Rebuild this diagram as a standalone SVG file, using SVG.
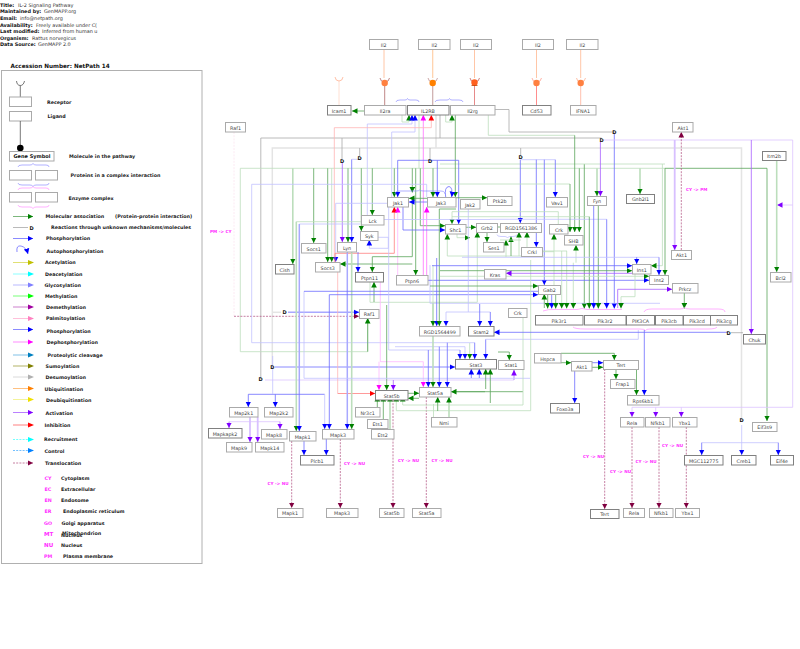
<svg xmlns="http://www.w3.org/2000/svg" width="800" height="649" viewBox="0 0 800 649">
<style>
text{font-family:"DejaVu Sans",sans-serif}
.h{font-size:4.9px;fill:#333}.hb{font-size:4.9px;font-weight:bold;fill:#111}
.l{font-size:4.8px;font-weight:bold;fill:#222}
.lm{font-size:4.8px;font-weight:bold;fill:#ff30ff}
.lab{font-size:4.2px;font-weight:bold;fill:#ff30ff}
.nt{font-size:4.8px;fill:#444;text-anchor:middle}
.dt{font-size:5px;font-weight:bold;fill:#111;text-anchor:middle}
.bx{fill:#fff;stroke:#aaa;stroke-width:1}.dk{stroke:#808080}
path{fill:none;stroke-width:.8}
.g{stroke:#5aa45a}.gl{stroke:#bcdebc}.gt{stroke:#bcdebc;stroke-width:1.6}
.b{stroke:#6c6cff}.bl{stroke:#c2c2ff}.bt{stroke:#a8a8ff;stroke-width:1.5}
.p{stroke:#a860ff}.pl{stroke:#dcc4ff}.pt{stroke:#d8c0ff;stroke-width:1.8}
.m{stroke:#ff70ff}.ml{stroke:#ffb8ff}.r{stroke:#ff8080}.rl{stroke:#ffb4b4}
.k{stroke:#a8a8a8}.kl{stroke:#e4e4e4;stroke-width:1.5}
.t{stroke:#b8608c;stroke-dasharray:2 1.2}
.o1{stroke:#ffb890}.o2{stroke:#ffd0a8;stroke-width:1.2}.o3{stroke:#ffd8c8}
.s1{stroke:#b06868}.s2{stroke:#ccacac;stroke-width:1.2}.s3{stroke:#e06c6c}.s4{stroke:#ff7070}.s5{stroke:#ffb098}
.br{stroke:#9090ff;stroke-width:.7}.brm{stroke:#ff90ff;stroke-width:.7}
.ag{marker-end:url(#ag)}.ab{marker-end:url(#ab)}.ap{marker-end:url(#ap)}.am{marker-end:url(#am)}.ar{marker-end:url(#ar)}.at{marker-end:url(#at)}
</style>
<defs>
<marker id="ag" markerUnits="userSpaceOnUse" markerWidth="6" markerHeight="6" refX="5.5" refY="3" orient="auto"><path d="M0,.2L5.6,3L0,5.8z" style="fill:#008000;stroke:none"/></marker>
<marker id="ab" markerUnits="userSpaceOnUse" markerWidth="6" markerHeight="6" refX="5.5" refY="3" orient="auto"><path d="M0,.2L5.6,3L0,5.8z" style="fill:#0000ff;stroke:none"/></marker>
<marker id="ap" markerUnits="userSpaceOnUse" markerWidth="6" markerHeight="6" refX="5.5" refY="3" orient="auto"><path d="M0,.2L5.6,3L0,5.8z" style="fill:#8000ff;stroke:none"/></marker>
<marker id="am" markerUnits="userSpaceOnUse" markerWidth="6" markerHeight="6" refX="5.5" refY="3" orient="auto"><path d="M0,.2L5.6,3L0,5.8z" style="fill:#ff00ff;stroke:none"/></marker>
<marker id="ar" markerUnits="userSpaceOnUse" markerWidth="6" markerHeight="6" refX="5.5" refY="3" orient="auto"><path d="M0,.2L5.6,3L0,5.8z" style="fill:#ff0000;stroke:none"/></marker>
<marker id="at" markerUnits="userSpaceOnUse" markerWidth="6" markerHeight="6" refX="5.5" refY="3" orient="auto"><path d="M0,.2L5.6,3L0,5.8z" style="fill:#800040;stroke:none"/></marker>
</defs>
<rect width="800" height="649" fill="#fff"/>

<!-- pathway header -->
<g id="header">
<text class="hb" x="0" y="6.5">Title:</text><text class="h" x="18" y="6.5">IL-2 Signaling Pathway</text>
<text class="hb" x="0" y="13">Maintained by:</text><text class="h" x="44" y="13">GenMAPP.org</text>
<text class="hb" x="0" y="20">Email:</text><text class="h" x="20" y="20">info@netpath.org</text>
<text class="hb" x="0" y="26.5">Availability:</text><text class="h" x="36" y="26.5">Freely available under C(</text>
<text class="hb" x="0" y="33">Last modified:</text><text class="h" x="42" y="33">Inferred from human u</text>
<text class="hb" x="0" y="40">Organism:</text><text class="h" x="32" y="40">Rattus norvegicus</text>
<text class="hb" x="0" y="46">Data Source:</text><text class="h" x="38" y="46">GenMAPP 2.0</text>
<text x="10.5" y="67.5" style="font-size:5.7px;font-weight:bold;fill:#111">Accession Number: NetPath 14</text>
</g>

<!-- legend -->
<g id="legend">
<rect x="1.5" y="70.5" width="200.5" height="493" style="fill:#fff;stroke:#b0b0b0;stroke-width:1"/>
<path d="M16.5,81Q17,85.5 20.3,85.5Q23.5,85.5 24.5,81M20.3,85.5V97" style="stroke:#555"/>
<rect class="bx" x="9.5" y="97" width="22" height="9.5"/><rect class="bx" x="9.5" y="111.5" width="22" height="9.5"/>
<path d="M20.3,121V147" style="stroke:#555"/><circle cx="20.3" cy="148" r="3.3" fill="#000"/>
<rect class="bx" x="9.5" y="151.5" width="44.5" height="9.5"/><text class="dt" x="32" y="158">Gene Symbol</text>
<path class="br" d="M18,167Q18,165 22,165H30Q32,165 33,163.5Q34,165 36,165H46Q49,165 49,167"/>
<rect class="bx" x="9.5" y="170.5" width="22" height="9.5"/><rect class="bx" x="35.5" y="170.5" width="22" height="9.5"/>
<path class="br" d="M18,183Q18,185 22,185H30Q32,185 33,186.5Q34,185 36,185H46Q49,185 49,183"/>
<path class="brm" d="M18,190Q18,188 22,188H30Q32,188 33,186.5Q34,188 36,188H46Q49,188 49,190"/>
<rect class="bx" x="9.5" y="192.5" width="22" height="9.5"/><rect class="bx" x="35.5" y="192.5" width="22" height="9.5"/>
<path class="brm" d="M18,205Q18,207 22,207H30Q32,207 33,208.5Q34,207 36,207H46Q49,207 49,205"/>
<path class="g ag" d="M13,216.5H33"/><path class="k" d="M13,227.5H28"/><text class="dt" x="31.5" y="229.5">D</text>
<path class="b ab" d="M13,238.5H33"/>
<path class="b ab" d="M17,252Q16,245 21,246Q26,247 28,254"/>
<path style="stroke:#d8d850" d="M13,262.5H28"/><path d="M28,260V265L34,262.5z" style="fill:#c0c000;stroke:none"/>
<path style="stroke:#70ffff" d="M13,274H28"/><path d="M28,271.5V276.5L34,274z" style="fill:#00ffff;stroke:none"/>
<path style="stroke:#d0d0ff;stroke-width:1.5" d="M13,285H28"/><path d="M28,282.5V287.5L34,285z" style="fill:#8080ff;stroke:none"/>
<path style="stroke:#90ff90;stroke-width:1.2" d="M13,296H28"/><path d="M28,293.5V298.5L34,296z" style="fill:#00ff00;stroke:none"/>
<path style="stroke:#c060c0" d="M13,307H28"/><path d="M28,304.5V309.5L34,307z" style="fill:#a000a0;stroke:none"/>
<path style="stroke:#ffb0d0" d="M13,318.5H28"/><path d="M28,316V321L34,318.5z" style="fill:#ff80c0;stroke:none"/>
<path class="b ab" d="M13,329.5H33"/>
<path class="m am" d="M13,342H33"/>
<path style="stroke:#b0d8f0;stroke-width:1.6" d="M13,355H28"/><path d="M28,352.5V357.5L34,355z" style="fill:#0080c0;stroke:none"/>
<path style="stroke:#c0c080;stroke-width:1.2" d="M13,366H28"/><path d="M28,363.5V368.5L34,366z" style="fill:#808000;stroke:none"/>
<path style="stroke:#d0d0d0" d="M13,377H28"/><path d="M28,374.5V379.5L34,377z" style="fill:#b0b0b0;stroke:none"/>
<path style="stroke:#ffb060" d="M13,388.5H28"/><path d="M28,386V391L34,388.5z" style="fill:#ff8000;stroke:none"/>
<path style="stroke:#f0f080" d="M13,399.5H28"/><path d="M28,397V402L34,399.5z" style="fill:#f0e000;stroke:none"/>
<path class="p ap" d="M13,412.5H33"/>
<path style="stroke:#ffb0b0;stroke-width:1.6" d="M13,425H28"/><path d="M28,422.5V427.5L34,425z" style="fill:#ff0000;stroke:none"/>
<path style="stroke:#50ffff;stroke-dasharray:2 1.2" d="M13,439.5H28"/><path d="M28,437V442L34,439.5z" style="fill:#00ffff;stroke:none"/>
<path style="stroke:#50b0ff;stroke-dasharray:2 1.2" d="M13,450.5H28"/><path d="M28,448V453L34,450.5z" style="fill:#0080ff;stroke:none"/>
<path class="t at" d="M13,463H33"/>
<text class="l" x="47" y="104">Receptor</text><text class="l" x="47.5" y="118">Ligand</text>
<text class="l" x="69" y="158">Molecule in the pathway</text><text class="l" x="70.5" y="177">Proteins in a complex interaction</text>
<text class="l" x="68.5" y="199.5">Enzyme complex</text>
<text class="l" x="45.5" y="218">Molecular association</text><text class="l" x="115" y="218">(Protein-protein interaction)</text>
<text class="l" x="51" y="229">Reactions through unknown mechanisms/molecules</text>
<text class="l" x="46" y="240">Phosphorylation</text><text class="l" x="46.5" y="253">Autophosphorylation</text>
<text class="l" x="45" y="264">Acetylation</text><text class="l" x="45" y="276">Deacetylation</text><text class="l" x="44.5" y="287">Glycosylation</text>
<text class="l" x="45" y="298">Methylation</text><text class="l" x="46" y="309">Demethylation</text><text class="l" x="46" y="320">Palmitoylation</text>
<text class="l" x="46.5" y="333">Phosphorylation</text><text class="l" x="46.5" y="344">Dephosphorylation</text>
<text class="l" x="47.5" y="357">Proteolytic cleavage</text><text class="l" x="45.5" y="368">Sumoylation</text><text class="l" x="45.5" y="379">Desumoylation</text>
<text class="l" x="44.5" y="390.5">Ubiquitination</text><text class="l" x="46" y="401.5">Deubiquitination</text>
<text class="l" x="45.5" y="414.5">Activation</text><text class="l" x="44.5" y="427">Inhibition</text>
<text class="l" x="44" y="441">Recruitment</text><text class="l" x="44.5" y="452.5">Control</text><text class="l" x="45" y="465">Translocation</text>
<text class="lm" x="44.5" y="479.5">CY</text><text class="l" x="61" y="479.5">Cytoplasm</text>
<text class="lm" x="44.5" y="491">EC</text><text class="l" x="61" y="491">Extracellular</text>
<text class="lm" x="44.5" y="502">EN</text><text class="l" x="61" y="502">Endosome</text>
<text class="lm" x="44.5" y="513">ER</text><text class="l" x="63" y="513">Endoplasmic reticulum</text>
<text class="lm" x="44" y="524.5">GO</text><text class="l" x="61.5" y="524.5">Golgi apparatus</text>
<text class="lm" x="44" y="535.5" style="font-size:5.6px">MT</text><text class="l" x="62" y="535">Mitochondrion</text><text class="l" x="61" y="537">Nucleus</text>
<text class="lm" x="44" y="547" style="font-size:5.6px">NU</text><text class="l" x="61" y="546.5">Nucleus</text>
<text class="lm" x="44" y="558">PM</text><text class="l" x="63" y="558">Plasma membrane</text>
</g>

<!-- interactions between the molecules -->
<g id="connectors">
<!-- ligand to receptor links -->
<path class="o1" d="M384,49V78"/><path class="s1" d="M384.7,84V105"/>
<path class="o2" d="M432.7,49V78"/><path class="s2" d="M432.7,84V105"/>
<path class="o1" d="M474.5,49V78"/><path class="s3" d="M474.5,84V105"/>
<path class="o3" d="M339,81V105"/>
<path class="o1" d="M536.5,49V78"/><path class="s4" d="M536.5,84V105"/>
<path class="o1" d="M580.7,49V78"/><path class="s5" d="M580.7,84V105"/>
<!-- long backbone lines -->
<path class="k" d="M495,109.5H509V132H614.3"/>
<path class="kl" d="M436,115V148M272.3,367V148H741.5V420"/>
<path class="k" d="M440,115V138M260.8,379V138H601.5M342,138V159M359.7,148V156M430,148V159M520.7,148V156"/>
<path class="gl" d="M240.3,168.3V351.7H367.7V320"/>
<path class="gl" d="M419,115V168.3"/>
<path class="gl" d="M240.3,168.3H665"/>
<path class="g" d="M665,168.3H767"/><path class="g ag" d="M767,168.3V421"/>
<path class="g ag" d="M313.7,168.3V243"/>
<path class="gt ag" d="M292.8,168.3V264"/>
<path class="g ag" d="M327.7,168.3V262"/><path class="gl ag" d="M331.7,168.3V262"/>
<path class="g ag" d="M348,168.3V242"/>
<path class="g ag" d="M361.3,168.3V231"/>
<path class="g ag" d="M372.3,168.3V215"/>
<path class="g ag" d="M394.3,168.3V197"/>
<path class="g ag" d="M412.3,168.3V192.5"/>
<path class="g" d="M412.3,198V256.7"/>
<path class="g ag" d="M415.7,168.3V275"/>
<path class="g ag" d="M433,168.3V197"/>
<path class="g ag" d="M420.3,168.3V225.7H445"/>
<path class="gt ag" d="M597,168.3V196"/>
<path class="gt ag" d="M640,168.3V194"/>
<path class="g ag" d="M584.3,164V308.5"/>
<path class="gl" d="M440,164H665"/>
<path class="g ag" d="M665,168.3V275"/>
<path class="gl ag" d="M662.4,164V265.7H651"/>
<path class="g ag" d="M579.3,168.3V232"/>
<!-- receptor interactions -->
<path class="g ag" d="M364,111H352"/>
<path class="gl ag" d="M402,115V122H409V115"/>
<path class="bl ab" d="M367.3,215V124H412V115"/>
<path class="bl ab" d="M391.7,197V132H415V115"/>
<path class="m am" d="M423.3,275V115"/>
<path class="m am" d="M426.7,275V207"/>
<path class="rl ar" d="M334.3,262V127.7H431.3V115"/>
<path class="gl ag" d="M445.7,115V122H452V115"/>
<path class="g ag" d="M455.3,115V197"/>
<path class="gl" d="M488.3,115V135.3H574.7"/>
<path class="g ag" d="M574.7,135.3V232"/>
<!-- unknown-mechanism branches -->
<path class="b ab" d="M351.7,159.3V242"/><path class="bl" d="M351.7,159.3H359.7"/>
<path class="p ap" d="M342.3,163V242"/>
<path class="b" d="M397.7,160.3H458.7"/><path class="b ab" d="M397.7,160.3V197"/><path class="b ab" d="M437.3,160.3V197"/><path class="b ab" d="M458.7,160.3V224"/>
<path class="bl" d="M520.7,159.7H555.3"/><path class="b ab" d="M555.3,159.7V197"/><path class="b ab" d="M520.3,159.7V223"/><path class="b ab" d="M536.3,159.7V247"/><path class="b ab" d="M544.3,159.7V285"/>
<path class="b ab" d="M614.3,134V308.5"/>
<path class="p ap" d="M600.4,142V196"/>
<path class="pl" d="M604,140H792.7V407.3H632"/>
<path class="pl ap" d="M632,407.3V417"/><path class="pl ap" d="M655.7,407.3V417"/><path class="pl ap" d="M681.3,407.3V417"/>
<path class="p ap" d="M751.3,140V334"/>
<path class="pt ap" d="M674.7,140V250"/>
<path class="pl ap" d="M792.7,205H777"/>
<path class="gt ag" d="M776.7,160V272"/>
<path class="bl" d="M701.7,442.7H778.3"/><path class="b ab" d="M701.7,442.7V455"/><path class="bl ab" d="M741.7,425V455"/><path class="b ab" d="M778.3,442.7V455"/>
<path class="pl" d="M265,380H514"/><path class="p ap" d="M514,380V370"/>
<path class="b ab" d="M275,367H455"/>
<path class="kl" d="M272,312.3H281"/><path class="bt ab" d="M288,312.3H359"/>
<!-- translocation paths -->
<path style="stroke:#fbe4f0;stroke-dasharray:2 1.2" d="M234,132V316"/>
<path class="t at" d="M234,316.3H359"/>
<path class="t at" d="M681.3,250V132"/>
<path class="t at" d="M291.7,441V508"/><path class="t at" d="M340.3,439V508"/><path class="t at" d="M393,400V508"/><path class="t at" d="M426.3,397V508"/>
<path class="t at" d="M604.7,369V509"/><path class="t at" d="M632,427V508"/><path class="t at" d="M659,427V508"/><path class="t at" d="M686.3,427V508"/>
<!-- kinase and adaptor wiring, left side -->
<path class="bl" d="M426.7,197V184.3H251.7V342.7H474.7"/><path class="b ab" d="M474.7,342.7V359"/>
<path class="gl" d="M296.3,221.7H361"/><path class="gt ag" d="M296.3,221.7V431"/>
<path class="bl" d="M299.3,224H360"/><path class="bt ab" d="M299.3,224V431"/>
<path class="bl ab" d="M387,203.3H335.7V262"/>
<path class="rl" d="M337.7,272V393.5"/><path class="r ar" d="M337.7,393.5H375"/>
<path class="r ar" d="M335,262V253.3H394.3V207"/>
<path class="ml am" d="M397.7,275V207"/>
<path class="g ag" d="M427,198.3H409"/><path class="b ab" d="M427,202H409"/>
<path class="g ag" d="M456,197.7H487"/>
<path class="b ab" d="M445.7,197Q444,187 449,186.5Q453,187 451.7,197"/>
<path class="b ab" d="M403,207V230H445"/>
<path class="gl ag" d="M558.3,224V211.7H452V224"/>
<path class="g ag" d="M466,227.3H476"/>
<path class="gl ag" d="M520,256H447.3V234"/>
<path class="gl ag" d="M457,234V237.7H470"/>
<path class="gl ag" d="M370,282V302.3H477.3V232"/>
<path class="g ag" d="M487,232V242"/>
<path class="g" d="M498,227H500"/>
<path class="g ag" d="M412.3,256.7H372.3V272"/>
<path class="g ag" d="M412.3,264H340"/>
<path class="b ab" d="M358,252V272"/>
<path class="bl ab" d="M369.3,248.3V240"/><path class="bl" d="M369.3,248.3H388.3V237.3H378"/>
<path class="g ag" d="M374,302V282"/>
<path class="g ag" d="M367.7,351.7V318"/>
<path class="bt ab" d="M347.3,252V429"/>
<path class="gt ag" d="M351.7,252V429"/>
<path class="ml am" d="M380.3,282V361.7H423.3V387"/>
<path class="ml am" d="M379,361.7V390"/>
<path class="g ag" d="M386.7,305V390"/>
<path class="p ap" d="M393.3,380V390"/>
<path class="bl" d="M304,291.3V378.3H530"/>
<path class="b" d="M304,291.3H538"/>
<path class="b ab" d="M329.3,294.7V429"/><path class="b ab" d="M329.3,294.7H538"/>
<path class="b" d="M248.3,394.3H324.7"/><path class="b ab" d="M248.3,394.3V407"/><path class="b ab" d="M275.3,394.3V407"/><path class="bl ab" d="M324.7,394.3V429"/>
<path class="bl" d="M272.7,356V394"/>
<!-- MAP kinase cascade -->
<path class="pl" d="M229,421.7H280"/><path class="p ap" d="M229,421.7V428"/><path class="p ap" d="M280,421.7V429"/>
<path class="pt ap" d="M250,417V442"/><path class="pt ap" d="M257.7,417V442"/>
<path class="b ab" d="M304,441V455"/><path class="b ab" d="M326.3,439V455"/>
<!-- Jak-Stat section -->
<path class="bl" d="M388.7,207V350H460"/><path class="b ab" d="M460,350V359"/>
<path class="bl ab" d="M395,346.7H465V359"/>
<path class="gl ag" d="M469.7,343V359"/>
<path class="b ab" d="M428.3,350V387"/><path class="b ab" d="M439.3,346.7V387"/><path class="b ab" d="M447.3,342.7V387"/>
<path class="gt ag" d="M433,303V387"/>
<path class="bl" d="M430,265V303.3H660"/>
<path class="b ab" d="M428,280.3H649"/>
<path class="b ab" d="M485.7,339.3V359"/><path class="bl" d="M485.7,339.3H638.3V330"/>
<path class="g ag" d="M509.3,352V360"/><path class="g" d="M498,352H509.3"/>
<path class="b ab" d="M471.3,378V369"/><path class="b ab" d="M479.3,378V369"/>
<path class="g ag" d="M485.7,389V369"/><path class="g ag" d="M490.3,403V369"/>
<path class="g ag" d="M408,393.3H419"/><path class="g ag" d="M419,398.3H408"/>
<path class="g" d="M451,391.7H523"/>
<path class="g ag" d="M485,391.7H451"/>
<path class="g ag" d="M377.3,407V396"/><path class="g ag" d="M383.3,419V396"/><path class="gt ag" d="M390,429V396"/>
<path class="gl ag" d="M396.3,410.7V396"/><path class="gl ag" d="M402.7,405V396"/>
<path class="gl" d="M396.3,410.7H530.7V260"/><path class="gl" d="M402.7,405H523V317"/>
<path class="g ag" d="M437.7,411V397"/><path class="gt ag" d="M449,417V397"/>
<path class="gl" d="M433.5,417V404"/>
<!-- RGD and Stam2 -->
<path class="gl ag" d="M433,265V326"/>
<path class="b ab" d="M436.7,258V326"/><path class="g ag" d="M439.3,209V326"/><path class="g" d="M439.3,209H456"/>
<path class="bl ab" d="M446,312V326"/><path class="bl" d="M446,312H490.3"/>
<path class="bl" d="M468.3,209V312"/>
<path class="b ab" d="M479.7,304V326"/><path class="b ab" d="M490.3,312V326"/>
<path class="b ab" d="M728,332.3H494"/>
<path class="k" d="M731,332.7H743"/>
<!-- Grb2, RGD1561386 and Crk area -->
<path class="bl" d="M497,234.5Q497,236.5 501,236.5H505Q507,236.5 507.5,238Q508,236.5 510,236.5H513Q517,236.5 517,234.5"/>
<path class="gl ag" d="M506,257V240"/><path class="g ag" d="M511,256V236.7"/>
<path class="gl ag" d="M519,256V232"/><path class="gl ag" d="M527,256V232"/>
<path class="gl" d="M520,256H545"/>
<path class="gl ag" d="M554,251.7V234"/>
<path class="gl ag" d="M554,285V251.7H521"/>
<path class="bl" d="M384,219.5H490V219.3H606.7"/><path class="b ab" d="M606.7,219.3V308.5"/>
<path class="gl" d="M440,184H570"/><path class="g ag" d="M570,184V232"/>
<path class="gl" d="M452,216.7H589.3"/><path class="g ag" d="M589.3,216.7V308.5"/>
<path class="gl ag" d="M576,262.7V245"/><path class="gl ag" d="M573.3,262.7V308.5"/>
<path class="gl ag" d="M561.7,251V308.5"/><path class="gl ag" d="M566.7,251V308.5"/>
<path class="gl" d="M530,251H567"/>
<path class="b ab" d="M593.7,205V308.5"/><path class="g ag" d="M598.3,205V308.5"/>
<path class="g ag" d="M547.7,294V308.5"/><path class="b ab" d="M551.7,294V308.5"/><path class="g ag" d="M555.7,294V308.5"/>
<path class="g ag" d="M544.3,308V294"/>
<path class="g ag" d="M430,286H538"/>
<!-- Ins, Prkcz and PI3K section -->
<path class="b ab" d="M432,265.7H632"/>
<path class="g ag" d="M440,270.7H632"/>
<path class="gl ag" d="M440,276.3H649"/>
<path class="p ap" d="M632,273.3H506"/>
<path class="bl" d="M462,257.3H659"/><path class="b ab" d="M636.7,257.3V264"/><path class="b ab" d="M659,257.3V275"/>
<path class="gl ag" d="M635,274V296.7H621V308.5"/>
<path class="p ap" d="M617.7,308V289.3H672"/>
<path class="g ag" d="M684.3,293V308.5"/>
<path class="brm" d="M543,311Q548,309 555,309.5H570Q578,310 582,308.5Q586,310 594,309.5H622"/>
<path class="brm" d="M644,312Q645,309 652,309H680Q684,309 684.5,307.5Q685,309 690,309H718Q725,309 725,312"/>
<path class="brm" d="M573,327Q575,329 585,329H640Q645,329 645.5,330.5Q646,329 650,329H708Q716,329 717,327"/>
<!-- Tert and downstream targets -->
<path class="g ag" d="M561,362.7H571"/><path class="g ag" d="M561,353.3H614.3V360"/>
<path class="b ab" d="M592,362.7H603"/><path class="g ag" d="M592,367.3H603"/>
<path class="b ab" d="M574.7,371V403"/><path class="g ag" d="M616,369V379"/>
<path class="g ag" d="M636.5,369V395"/><path class="b ab" d="M644.3,330V395"/>
<path class="gl" d="M510,232H530M500,240H521"/>
<!-- complex braces near the receptors -->
<path class="br" d="M396,102Q396,100 400,100H405Q407,100 407.5,98.5Q408,100 410,100H416Q419,100 419,102"/>
<path class="br" d="M435,102Q435,100 440,100H447Q449,100 449.5,98.5Q450,100 452,100H459Q463,100 463,102"/>
<path class="br" d="M395,194Q395,191 400,191H416Q419,191 419.5,190Q420,191 424,191H440Q445,191 445,194"/>
</g>

<!-- receptor cups and ligand binding dots -->
<g id="binding-sites">
<path d="M335,77Q335.5,81 339,81Q342.5,81 343,77" style="stroke:#ffb090"/>
<path d="M380,78Q380.5,82 384.7,82Q389,82 389.5,78" style="stroke:#b06868"/><circle cx="384.7" cy="83" r="3.2" fill="#ff8040"/>
<path d="M428,78Q428.5,82 432.7,82Q437,82 437.5,78" style="stroke:#c09090"/><circle cx="432.7" cy="83" r="3.2" fill="#ff8000"/>
<path d="M470,78Q470.5,82 474.5,82Q479,82 479.5,78" style="stroke:#c06060"/><circle cx="474.5" cy="82.5" r="3.2" fill="#ff6020"/><path d="M471.5,85.5H477.5" style="stroke:#c04000"/>
<path d="M532,78Q532.5,82 536.5,82Q541,82 541.5,78" style="stroke:#ffa090"/><circle cx="536.5" cy="83" r="3.2" fill="#ff8040"/>
<path d="M576.5,78Q577,82 580.7,82Q585,82 585.5,78" style="stroke:#ffb090"/><circle cx="580.7" cy="83" r="3.2" fill="#ff8040"/>
</g>

<!-- D markers for unknown mechanisms -->
<g id="unknown-markers">
<text class="dt" x="342" y="163">D</text><text class="dt" x="359.7" y="159.5">D</text><text class="dt" x="430" y="163">D</text>
<text class="dt" x="520.7" y="159">D</text><text class="dt" x="614.3" y="133.5">D</text><text class="dt" x="601.7" y="141.8">D</text>
<text class="dt" x="284.7" y="314">D</text><text class="dt" x="272.3" y="369">D</text><text class="dt" x="260.7" y="381">D</text>
<text class="dt" x="728.7" y="334.5">D</text><text class="dt" x="741.7" y="422">D</text>
</g>

<!-- compartment changes -->
<g id="translocation-labels">
<text class="lab" x="210" y="232.5">PM -&gt; CY</text><text class="lab" x="686" y="190.5">CY -&gt; PM</text>
<text class="lab" x="267.5" y="484.5">CY -&gt; NU</text><text class="lab" x="344" y="465">CY -&gt; NU</text>
<text class="lab" x="398" y="461.5">CY -&gt; NU</text><text class="lab" x="431.5" y="461.5">CY -&gt; NU</text>
<text class="lab" x="583" y="458">CY -&gt; NU</text><text class="lab" x="610" y="472.5">CY -&gt; NU</text>
<text class="lab" x="635.5" y="463">CY -&gt; NU</text><text class="lab" x="662" y="447">CY -&gt; NU</text>
</g>

<!-- molecules -->
<g id="il2-a"><rect class="bx" x="369.5" y="39.5" width="28.5" height="10"/><text class="nt" x="383.7" y="46.5">Il2</text></g>
<g id="il2-b"><rect class="bx" x="418.5" y="39.5" width="31.5" height="10"/><text class="nt" x="434.5" y="46.5">Il2</text></g>
<g id="il2-c"><rect class="bx" x="460.5" y="39.5" width="31" height="10"/><text class="nt" x="476" y="46.5">Il2</text></g>
<g id="il2-d"><rect class="bx" x="522.5" y="39.5" width="31" height="10"/><text class="nt" x="538" y="46.5">Il2</text></g>
<g id="il2-e"><rect class="bx" x="566.5" y="39.5" width="31.5" height="10"/><text class="nt" x="582.5" y="46.5">Il2</text></g>
<g id="icam1"><rect class="bx dk" x="327.5" y="105.5" width="23.5" height="9.5"/><text class="nt" x="339" y="112.5">Icam1</text></g>
<g id="il2ra"><rect class="bx" x="364.5" y="105.5" width="41.5" height="9.5"/><text class="nt" x="385" y="112.5">Il2ra</text></g>
<g id="il2rb"><rect class="bx dk" x="407.5" y="105.5" width="41.5" height="9.5"/><text class="nt" x="428" y="112.5">IL2RB</text></g>
<g id="il2rg"><rect class="bx" x="450.5" y="105.5" width="44.5" height="9.5"/><text class="nt" x="472.5" y="112.5">Il2rg</text></g>
<g id="cd53"><rect class="bx dk" x="522.5" y="105.5" width="28.5" height="9.5"/><text class="nt" x="536.5" y="112.5">Cd53</text></g>
<g id="ifna1"><rect class="bx" x="570.5" y="105.5" width="25.5" height="9.5"/><text class="nt" x="583" y="112.5">IFNA1</text></g>
<g id="raf1-a"><rect class="bx" x="225.5" y="122.5" width="20" height="9.5"/><text class="nt" x="235.5" y="129.5">Raf1</text></g>
<g id="akt1-a"><rect class="bx" x="672.5" y="122.5" width="20.5" height="9.5"/><text class="nt" x="683" y="129.5">Akt1</text></g>
<g id="itm2b"><rect class="bx dk" x="762.5" y="151.5" width="23.5" height="9"/><text class="nt" x="774" y="158">Itm2b</text></g>
<g id="fyn"><rect class="bx" x="587.5" y="196.5" width="19" height="9"/><text class="nt" x="597" y="203">Fyn</text></g>
<g id="vav1"><rect class="bx" x="546.5" y="197.5" width="21" height="9.5"/><text class="nt" x="557" y="204.5">Vav1</text></g>
<g id="gnb2l1"><rect class="bx dk" x="626.5" y="194.5" width="28" height="9"/><text class="nt" x="640.5" y="201">Gnb2l1</text></g>
<g id="ptk2b"><rect class="bx" x="487.5" y="196.5" width="24.5" height="9"/><text class="nt" x="499.7" y="203">Ptk2b</text></g>
<g id="jak1"><rect class="bx" x="387.5" y="197.5" width="21" height="9.5"/><text class="nt" x="398" y="204.5">Jak1</text></g>
<g id="jak3"><rect class="bx" x="427.5" y="197.5" width="28.5" height="9.5"/><text class="nt" x="441" y="204.5">Jak3</text></g>
<g id="jak2"><rect class="bx" x="460.5" y="199.5" width="19.5" height="9.5"/><text class="nt" x="470" y="206.5">Jak2</text></g>
<g id="lck"><rect class="bx" x="361.5" y="215.5" width="22.5" height="9.5"/><text class="nt" x="372.7" y="222.5">Lck</text></g>
<g id="shc1"><rect class="bx" x="445.5" y="224.5" width="20.5" height="9.5"/><text class="nt" x="455.5" y="231.5">Shc1</text></g>
<g id="grb2"><rect class="bx" x="476.5" y="223.5" width="21" height="9"/><text class="nt" x="487" y="230">Grb2</text></g>
<g id="rgd1561386"><rect class="bx" x="500.5" y="223.5" width="41" height="9"/><text class="nt" x="521" y="230">RGD1561386</text></g>
<g id="crk-a"><rect class="bx" x="549.5" y="224.5" width="18.5" height="9.5"/><text class="nt" x="559" y="231.5">Crk</text></g>
<g id="shb"><rect class="bx" x="564.5" y="235.5" width="18.5" height="9.5"/><text class="nt" x="573.5" y="242.5">SHB</text></g>
<g id="syk"><rect class="bx" x="360.5" y="231.5" width="17.5" height="9"/><text class="nt" x="369.3" y="238">Syk</text></g>
<g id="socs1"><rect class="bx" x="301.5" y="243.5" width="24.5" height="9.5"/><text class="nt" x="313.7" y="250.5">Socs1</text></g>
<g id="lyn"><rect class="bx" x="337.5" y="242.5" width="19" height="9.5"/><text class="nt" x="347" y="249.5">Lyn</text></g>
<g id="ses1"><rect class="bx" x="483.5" y="242.5" width="20.5" height="9.5"/><text class="nt" x="493.7" y="249.5">Ses1</text></g>
<g id="crkl"><rect class="bx" x="521.5" y="247.5" width="21" height="9"/><text class="nt" x="532" y="254">Crkl</text></g>
<g id="socs3"><rect class="bx" x="315.5" y="262.5" width="24.5" height="9.5"/><text class="nt" x="327.7" y="269.5">Socs3</text></g>
<g id="cish"><rect class="bx dk" x="275.5" y="264.5" width="18.5" height="9.5"/><text class="nt" x="284.7" y="271.5">Cish</text></g>
<g id="ptpn11"><rect class="bx dk" x="355.5" y="272.5" width="28" height="9.5"/><text class="nt" x="369.5" y="279.5">Ptpn11</text></g>
<g id="ptpn6"><rect class="bx" x="396.5" y="275.5" width="31.5" height="9.5"/><text class="nt" x="412" y="282.5">Ptpn6</text></g>
<g id="kras"><rect class="bx" x="484.5" y="269.5" width="21.5" height="9.5"/><text class="nt" x="495" y="276.5">Kras</text></g>
<g id="ins1"><rect class="bx" x="632.5" y="264.5" width="18.5" height="9.5"/><text class="nt" x="641.7" y="271.5">Ins1</text></g>
<g id="ins2"><rect class="bx" x="649.5" y="275.5" width="19" height="9"/><text class="nt" x="659" y="282">Ins2</text></g>
<g id="akt1-b"><rect class="bx" x="671.5" y="250.5" width="20" height="9"/><text class="nt" x="681.5" y="257">Akt1</text></g>
<g id="prkcz"><rect class="bx" x="672.5" y="283.5" width="25.5" height="9.5"/><text class="nt" x="685" y="290.5">Prkcz</text></g>
<g id="gab2"><rect class="bx" x="538.5" y="285.5" width="22" height="9"/><text class="nt" x="549.5" y="292">Gab2</text></g>
<g id="bcl2"><rect class="bx" x="770.5" y="272.5" width="20.5" height="9.5"/><text class="nt" x="780.7" y="279.5">Bcl2</text></g>
<g id="crk-b"><rect class="bx" x="508.5" y="308.5" width="18.5" height="9"/><text class="nt" x="517.7" y="315">Crk</text></g>
<g id="raf1-b"><rect class="bx" x="359.5" y="309.5" width="19.5" height="9"/><text class="nt" x="369.3" y="316">Raf1</text></g>
<g id="pik3r1"><rect class="bx dk" x="535.5" y="315.5" width="47.5" height="9.5"/><text class="nt" x="559" y="322.5">Pik3r1</text></g>
<g id="pik3r2"><rect class="bx dk" x="584.5" y="315.5" width="41.5" height="9.5"/><text class="nt" x="605" y="322.5">Pik3r2</text></g>
<g id="pik3ca"><rect class="bx dk" x="626.5" y="315.5" width="28" height="9.5"/><text class="nt" x="640.5" y="322.5">PIK3CA</text></g>
<g id="pik3cb"><rect class="bx dk" x="655.5" y="315.5" width="27.5" height="9.5"/><text class="nt" x="669" y="322.5">Pik3cb</text></g>
<g id="pik3cd"><rect class="bx dk" x="683.5" y="315.5" width="27" height="9.5"/><text class="nt" x="697" y="322.5">Pik3cd</text></g>
<g id="pik3cg"><rect class="bx dk" x="710.5" y="315.5" width="27" height="9.5"/><text class="nt" x="724" y="322.5">Pik3cg</text></g>
<g id="rgd1564499"><rect class="bx" x="419.5" y="326.5" width="40.5" height="9.5"/><text class="nt" x="439.7" y="333.5">RGD1564499</text></g>
<g id="stam2"><rect class="bx dk" x="468.5" y="326.5" width="25.5" height="9.5"/><text class="nt" x="481" y="333.5">Stam2</text></g>
<g id="chuk"><rect class="bx dk" x="743.5" y="334.5" width="22" height="9.5"/><text class="nt" x="754.5" y="341.5">Chuk</text></g>
<g id="stat3"><rect class="bx dk" x="455.5" y="359.5" width="41" height="9.5"/><text class="nt" x="476" y="366.5">Stat3</text></g>
<g id="stat1"><rect class="bx" x="498.5" y="360.5" width="25.5" height="9"/><text class="nt" x="511" y="367">Stat1</text></g>
<g id="hspca"><rect class="bx" x="534.5" y="353.5" width="26.5" height="9.5"/><text class="nt" x="547.5" y="360.5">Hspca</text></g>
<g id="akt1-c"><rect class="bx" x="571.5" y="361.5" width="20.5" height="9.5"/><text class="nt" x="581.7" y="368.5">Akt1</text></g>
<g id="tert-a"><rect class="bx" x="603.5" y="360.5" width="35" height="9"/><text class="nt" x="621" y="367">Tert</text></g>
<g id="frap1"><rect class="bx" x="610.5" y="379.5" width="24.5" height="9"/><text class="nt" x="622.5" y="386">Frap1</text></g>
<g id="stat5b-a"><rect class="bx dk" x="375.5" y="390.5" width="32.5" height="9.5"/><text class="nt" x="391.7" y="397.5">Stat5b</text></g>
<g id="stat5a-a"><rect class="bx" x="419.5" y="387.5" width="31.5" height="9.5"/><text class="nt" x="435" y="394.5">Stat5a</text></g>
<g id="rps6kb1"><rect class="bx" x="627.5" y="395.5" width="31.5" height="9.5"/><text class="nt" x="643" y="402.5">Rps6kb1</text></g>
<g id="foxo3a"><rect class="bx dk" x="550.5" y="403.5" width="29" height="9.5"/><text class="nt" x="565" y="410.5">Foxo3a</text></g>
<g id="map2k1"><rect class="bx" x="229.5" y="407.5" width="28.5" height="9.5"/><text class="nt" x="243.7" y="414.5">Map2k1</text></g>
<g id="map2k2"><rect class="bx" x="264.5" y="407.5" width="28.5" height="9.5"/><text class="nt" x="278.7" y="414.5">Map2k2</text></g>
<g id="nr3c1"><rect class="bx" x="355.5" y="407.5" width="24.5" height="9.5"/><text class="nt" x="367.7" y="414.5">Nr3c1</text></g>
<g id="ets1"><rect class="bx" x="367.5" y="419.5" width="20.5" height="9"/><text class="nt" x="377.7" y="426">Ets1</text></g>
<g id="ets2"><rect class="bx" x="371.5" y="429.5" width="22.5" height="9.5"/><text class="nt" x="382.7" y="436.5">Ets2</text></g>
<g id="nmi"><rect class="bx" x="431.5" y="417.5" width="25.5" height="9.5"/><text class="nt" x="444" y="424.5">Nmi</text></g>
<g id="rela-a"><rect class="bx" x="620.5" y="417.5" width="23.5" height="9.5"/><text class="nt" x="632" y="424.5">Rela</text></g>
<g id="nfkb1-a"><rect class="bx" x="645.5" y="417.5" width="24.5" height="9.5"/><text class="nt" x="657.7" y="424.5">Nfkb1</text></g>
<g id="ybx1-a"><rect class="bx" x="672.5" y="417.5" width="24.5" height="9.5"/><text class="nt" x="684.7" y="424.5">Ybx1</text></g>
<g id="eif3s9"><rect class="bx" x="752.5" y="422.5" width="24.5" height="9"/><text class="nt" x="764.7" y="429">Eif3s9</text></g>
<g id="mapkapk2"><rect class="bx dk" x="208.5" y="428.5" width="33.5" height="9.5"/><text class="nt" x="225" y="435.5">Mapkapk2</text></g>
<g id="mapk8"><rect class="bx" x="261.5" y="429.5" width="25.5" height="9.5"/><text class="nt" x="274" y="436.5">Mapk8</text></g>
<g id="mapk1-a"><rect class="bx" x="289.5" y="431.5" width="26.5" height="9.5"/><text class="nt" x="302.7" y="438.5">Mapk1</text></g>
<g id="mapk3-a"><rect class="bx" x="322.5" y="429.5" width="31.5" height="9.5"/><text class="nt" x="338" y="436.5">Mapk3</text></g>
<g id="mapk9"><rect class="bx" x="226.5" y="442.5" width="25.5" height="9.5"/><text class="nt" x="239" y="449.5">Mapk9</text></g>
<g id="mapk14"><rect class="bx" x="255.5" y="442.5" width="28.5" height="9.5"/><text class="nt" x="269.7" y="449.5">Mapk14</text></g>
<g id="plcb1"><rect class="bx dk" x="300.5" y="455.5" width="33.5" height="9.5"/><text class="nt" x="317" y="462.5">Plcb1</text></g>
<g id="mgc112775"><rect class="bx dk" x="684.5" y="455.5" width="38.5" height="9.5"/><text class="nt" x="703.7" y="462.5">MGC112775</text></g>
<g id="creb1"><rect class="bx dk" x="731.5" y="455.5" width="24.5" height="9.5"/><text class="nt" x="743.7" y="462.5">Creb1</text></g>
<g id="eif4e"><rect class="bx dk" x="770.5" y="455.5" width="23" height="9.5"/><text class="nt" x="782" y="462.5">Eif4e</text></g>
<g id="mapk1-b"><rect class="bx" x="277.5" y="508.5" width="25.5" height="9"/><text class="nt" x="290" y="515">Mapk1</text></g>
<g id="mapk3-b"><rect class="bx" x="326.5" y="508.5" width="31.5" height="9"/><text class="nt" x="342" y="515">Mapk3</text></g>
<g id="stat5b-b"><rect class="bx" x="379.5" y="508.5" width="24.5" height="9"/><text class="nt" x="391.7" y="515">Stat5b</text></g>
<g id="stat5a-b"><rect class="bx" x="412.5" y="508.5" width="28.5" height="9"/><text class="nt" x="426.7" y="515">Stat5a</text></g>
<g id="tert-b"><rect class="bx dk" x="590.5" y="509.5" width="28.5" height="9"/><text class="nt" x="604.7" y="516">Tert</text></g>
<g id="rela-b"><rect class="bx" x="623.5" y="508.5" width="21" height="9"/><text class="nt" x="634" y="515">Rela</text></g>
<g id="nfkb1-b"><rect class="bx" x="649.5" y="508.5" width="23.5" height="9"/><text class="nt" x="661" y="515">Nfkb1</text></g>
<g id="ybx1-b"><rect class="bx" x="675.5" y="508.5" width="24" height="9"/><text class="nt" x="687.5" y="515">Ybx1</text></g>
</svg>
